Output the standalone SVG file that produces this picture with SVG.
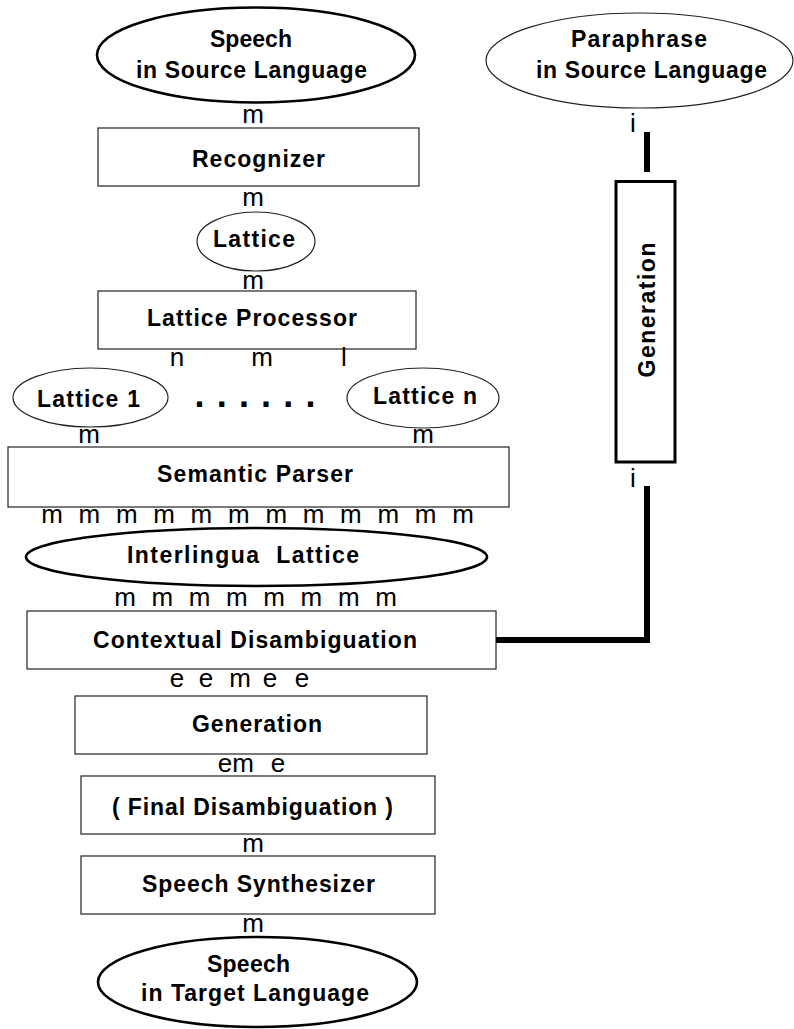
<svg xmlns="http://www.w3.org/2000/svg" width="794" height="1029" viewBox="0 0 794 1029">
<style>
.bg{fill:#fff}
.box{fill:#fff;stroke:#222;stroke-width:1.2}
.thin{fill:#fff;stroke:#222;stroke-width:1.2}
.thick{fill:#fff;stroke:#000;stroke-width:2.6}
.lbl{font-family:"Liberation Sans",Arial,sans-serif;font-weight:bold;font-size:23px;fill:#000;text-anchor:middle}
.port{font-family:"Liberation Sans",Arial,sans-serif;font-size:26px;fill:#000}
.pm{text-anchor:middle}
.wire{fill:none;stroke:#000;stroke-width:6;stroke-linecap:butt;stroke-linejoin:miter}
.dots{font-family:"Liberation Sans",Arial,sans-serif;font-weight:bold;font-size:36px;fill:#000}
</style>
<rect class="bg" x="0" y="0" width="794" height="1029"/>

<g id="speech-source">
<ellipse class="thick" cx="256" cy="55" rx="159" ry="47.5"/>
<text class="lbl" x="251" y="47" textLength="82" lengthAdjust="spacing">Speech</text>
<text class="lbl" x="251.5" y="78" textLength="231" lengthAdjust="spacing">in Source Language</text>
</g>

<g id="recognizer">
<rect class="box" x="98" y="128" width="321" height="58"/>
<text class="lbl" x="258.5" y="167" textLength="133" lengthAdjust="spacing">Recognizer</text>
</g>

<g id="lattice">
<ellipse class="thin" cx="256" cy="241.5" rx="59" ry="29.5"/>
<text class="lbl" x="254" y="247" textLength="82" lengthAdjust="spacing">Lattice</text>
</g>

<g id="lattice-processor">
<rect class="box" x="98" y="291" width="318" height="58"/>
<text class="lbl" x="252" y="326" textLength="210" lengthAdjust="spacing">Lattice Processor</text>
</g>

<g id="lattice-1">
<ellipse class="thin" cx="90.5" cy="397.5" rx="77.5" ry="29.5"/>
<text class="lbl" x="88.5" y="407" textLength="103" lengthAdjust="spacing">Lattice 1</text>
</g>

<g id="ellipsis">
<text class="dots" x="194.5 216.7 238.9 261.1 283.3 305.5" y="406.5">......</text>
</g>

<g id="lattice-n">
<ellipse class="thin" cx="423" cy="398" rx="76" ry="30"/>
<text class="lbl" x="425" y="404" textLength="104" lengthAdjust="spacing">Lattice n</text>
</g>

<g id="semantic-parser">
<rect class="box" x="8" y="447" width="501" height="60"/>
<text class="lbl" x="255" y="482" textLength="196" lengthAdjust="spacing">Semantic Parser</text>
</g>

<g id="interlingua-lattice">
<ellipse class="thick" cx="256.5" cy="557" rx="230.5" ry="29"/>
<text class="lbl" x="243" y="563" textLength="232" lengthAdjust="spacing" xml:space="preserve">Interlingua  Lattice</text>
</g>

<g id="contextual-disambiguation">
<rect class="box" x="27" y="611" width="469" height="58"/>
<text class="lbl" x="255" y="648" textLength="324" lengthAdjust="spacing">Contextual Disambiguation</text>
</g>

<g id="generation">
<rect class="box" x="75" y="696" width="352" height="58"/>
<text class="lbl" x="257" y="732" textLength="130" lengthAdjust="spacing">Generation</text>
</g>

<g id="final-disambiguation">
<rect class="box" x="81" y="776" width="354" height="58"/>
<text class="lbl" x="252.5" y="815" textLength="281" lengthAdjust="spacing">( Final Disambiguation )</text>
</g>

<g id="speech-synthesizer">
<rect class="box" x="81" y="856" width="354" height="58"/>
<text class="lbl" x="258.5" y="892" textLength="233" lengthAdjust="spacing">Speech Synthesizer</text>
</g>

<g id="speech-target">
<ellipse class="thick" cx="257.5" cy="982" rx="159.5" ry="45"/>
<text class="lbl" x="248.5" y="972" textLength="83" lengthAdjust="spacing">Speech</text>
<text class="lbl" x="255" y="1001" textLength="228" lengthAdjust="spacing">in Target Language</text>
</g>

<g id="paraphrase-source">
<ellipse class="thin" cx="639.5" cy="60.5" rx="153.5" ry="47.5"/>
<text class="lbl" x="639" y="47" textLength="136" lengthAdjust="spacing">Paraphrase</text>
<text class="lbl" x="651.5" y="78" textLength="231" lengthAdjust="spacing">in Source Language</text>
</g>

<g id="paraphrase-generation">
<rect fill="#fff" stroke="#000" stroke-width="3" x="616" y="181.5" width="59" height="280.5"/>
<text class="lbl" transform="translate(655,310) rotate(-90)" x="0" y="0" textLength="135" lengthAdjust="spacing">Generation</text>
</g>

<g id="connectors">
<line class="wire" x1="647" y1="132" x2="647" y2="172"/>
<path class="wire" d="M647 486 V640 H496"/>
<g id="port-labels">
<text class="port pm" x="253" y="123">m</text>
<text class="port pm" x="253" y="206">m</text>
<text class="port pm" x="253" y="289">m</text>
<text class="port pm" x="177" y="366">n</text>
<text class="port pm" x="262" y="366">m</text>
<text class="port pm" x="344" y="366">l</text>
<text class="port pm" x="89" y="443">m</text>
<text class="port pm" x="423" y="443">m</text>
<text class="port" y="523"><tspan x="41.2">m</tspan> <tspan x="78.6">m</tspan> <tspan x="115.9">m</tspan> <tspan x="153.3">m</tspan> <tspan x="190.6">m</tspan> <tspan x="228">m</tspan> <tspan x="265.4">m</tspan> <tspan x="302.7">m</tspan> <tspan x="340.1">m</tspan> <tspan x="377.4">m</tspan> <tspan x="414.8">m</tspan> <tspan x="452.2">m</tspan></text>
<text class="port" y="606"><tspan x="114.2">m</tspan> <tspan x="151.5">m</tspan> <tspan x="188.8">m</tspan> <tspan x="226.1">m</tspan> <tspan x="263.3">m</tspan> <tspan x="300.6">m</tspan> <tspan x="337.9">m</tspan> <tspan x="375.2">m</tspan></text>
<text class="port" y="687"><tspan x="169.8">e</tspan> <tspan x="198.8">e</tspan> <tspan x="229.2">m</tspan> <tspan x="262.8">e</tspan> <tspan x="294.8">e</tspan></text>
<text class="port" y="772"><tspan x="217.8">em</tspan> <tspan x="270.8">e</tspan></text>
<text class="port pm" x="253" y="852">m</text>
<text class="port pm" x="253" y="932">m</text>
<text class="port pm" x="633" y="132">i</text>
<text class="port pm" x="633" y="487">i</text>
</g>
</g>
</svg>
